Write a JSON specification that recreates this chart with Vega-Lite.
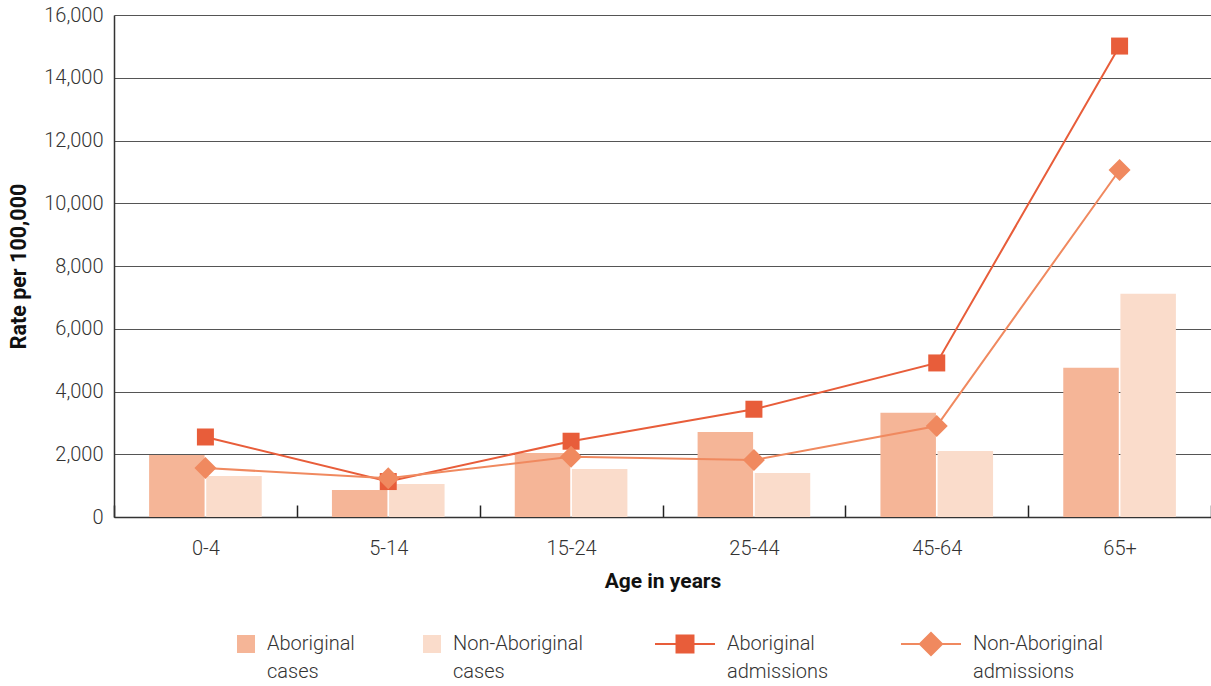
{
  "$schema": "https://vega.github.io/schema/vega-lite/v6.json",
  "width": 1097,
  "height": 502,
  "autosize": {"type": "none"},
  "padding": {"left": 114, "top": 15, "right": 0, "bottom": 169},
  "background": "white",
  "config": {
    "font": "Roboto",
    "view": {"stroke": null},
    "axis": {"labelColor": "#333333", "titleColor": "#111111", "labelFontSize": 20, "labelFontWeight": 300, "titleFontSize": 21, "titleFontWeight": "bold"}
  },
  "data": {
    "values": [
      {"age": "0-4", "series": "Aboriginal cases", "value": 1980},
      {"age": "5-14", "series": "Aboriginal cases", "value": 860},
      {"age": "15-24", "series": "Aboriginal cases", "value": 2040},
      {"age": "25-44", "series": "Aboriginal cases", "value": 2710},
      {"age": "45-64", "series": "Aboriginal cases", "value": 3320},
      {"age": "65+", "series": "Aboriginal cases", "value": 4755},
      {"age": "0-4", "series": "Non-Aboriginal cases", "value": 1310},
      {"age": "5-14", "series": "Non-Aboriginal cases", "value": 1050},
      {"age": "15-24", "series": "Non-Aboriginal cases", "value": 1530},
      {"age": "25-44", "series": "Non-Aboriginal cases", "value": 1400},
      {"age": "45-64", "series": "Non-Aboriginal cases", "value": 2100},
      {"age": "65+", "series": "Non-Aboriginal cases", "value": 7115},
      {"age": "0-4", "series": "Aboriginal admissions", "value": 2550},
      {"age": "5-14", "series": "Aboriginal admissions", "value": 1130},
      {"age": "15-24", "series": "Aboriginal admissions", "value": 2415},
      {"age": "25-44", "series": "Aboriginal admissions", "value": 3435},
      {"age": "45-64", "series": "Aboriginal admissions", "value": 4910},
      {"age": "65+", "series": "Aboriginal admissions", "value": 15010},
      {"age": "0-4", "series": "Non-Aboriginal admissions", "value": 1560},
      {"age": "5-14", "series": "Non-Aboriginal admissions", "value": 1235},
      {"age": "15-24", "series": "Non-Aboriginal admissions", "value": 1920},
      {"age": "25-44", "series": "Non-Aboriginal admissions", "value": 1815},
      {"age": "45-64", "series": "Non-Aboriginal admissions", "value": 2900},
      {"age": "65+", "series": "Non-Aboriginal admissions", "value": 11060}
    ]
  },
  "encoding": {
    "x": {
      "field": "age", "type": "nominal", "sort": null,
      "scale": {"paddingInner": 0, "paddingOuter": 0},
      "axis": {
        "title": "Age in years", "labelAngle": 0, "tickBand": "extent", "tickSize": -12,
        "tickColor": "#222222", "tickWidth": 1.5, "domainColor": "#333333", "domainWidth": 1.5,
        "labelPadding": 33, "titlePadding": 12, "grid": false
      }
    },
    "y": {
      "field": "value", "type": "quantitative",
      "scale": {"domain": [0, 16000], "nice": false},
      "axis": {
        "title": "Rate per 100,000", "format": ",d", "tickCount": 8, "ticks": false,
        "labelPadding": 11, "titlePadding": 13, "titleFontSize": 21.5,
        "domainColor": "#333333", "domainWidth": 1.5,
        "gridColor": "#555555", "gridWidth": 1
      }
    },
    "color": {
      "field": "series", "type": "nominal",
      "scale": {
        "domain": ["Aboriginal cases", "Non-Aboriginal cases", "Aboriginal admissions", "Non-Aboriginal admissions"],
        "range": ["#f5b597", "#fadccb", "#e85d3a", "#f0895f"]
      },
      "legend": {
        "title": null, "orient": "none", "direction": "horizontal", "columns": 4,
        "legendX": 143, "legendY": 619,
        "symbolSize": 3600, "labelOffset": 11, "columnPadding": 68,
        "labelFontSize": 20, "labelFontWeight": 300, "labelColor": "#333333", "labelLimit": 300,
        "labelExpr": "split(datum.label, ' ')",
        "labelBaseline": "middle",
        "encode": {
          "symbols": {
            "update": {
              "shape": {"signal": "datum.index < 2 ? 'M-1,-0.3H-0.4V0.3H-1Z' : datum.index == 2 ? 'M-1,0H1M-0.283,-0.283H0.283V0.283H-0.283Z' : 'M-1,0H1M-0.37,0L0,-0.37L0.37,0L0,0.37Z'"},
              "fill": {"signal": "scale('color', datum.value)"},
              "stroke": {"signal": "scale('color', datum.value)"},
              "strokeWidth": {"signal": "datum.index < 2 ? 0 : 2"},
              "opacity": {"value": 1},
              "fillOpacity": {"value": 1}
            }
          },
          "labels": {
            "update": {
              "dx": {"signal": "datum.index < 2 ? -21 : 21"},
              "lineHeight": {"value": 28}
            }
          }
        }
      }
    }
  },
  "layer": [
    {
      "transform": [{"filter": "indexof(datum.series, 'cases') >= 0"}],
      "mark": {"type": "bar", "width": 55.5},
      "encoding": {
        "xOffset": {"field": "series", "type": "nominal", "sort": ["Aboriginal cases", "Non-Aboriginal cases"], "scale": {"paddingInner": 0, "paddingOuter": 0.6}}
      }
    },
    {
      "transform": [{"filter": "indexof(datum.series, 'admissions') >= 0"}],
      "mark": {"type": "line", "strokeWidth": 2},
      "encoding": {}
    },
    {
      "transform": [{"filter": "datum.series == 'Aboriginal admissions'"}],
      "mark": {"type": "point", "shape": "square", "filled": true, "opacity": 1, "size": 289},
      "encoding": {}
    },
    {
      "transform": [{"filter": "datum.series == 'Non-Aboriginal admissions'"}],
      "mark": {"type": "point", "shape": "diamond", "filled": true, "opacity": 1, "size": 484},
      "encoding": {}
    }
  ]
}
